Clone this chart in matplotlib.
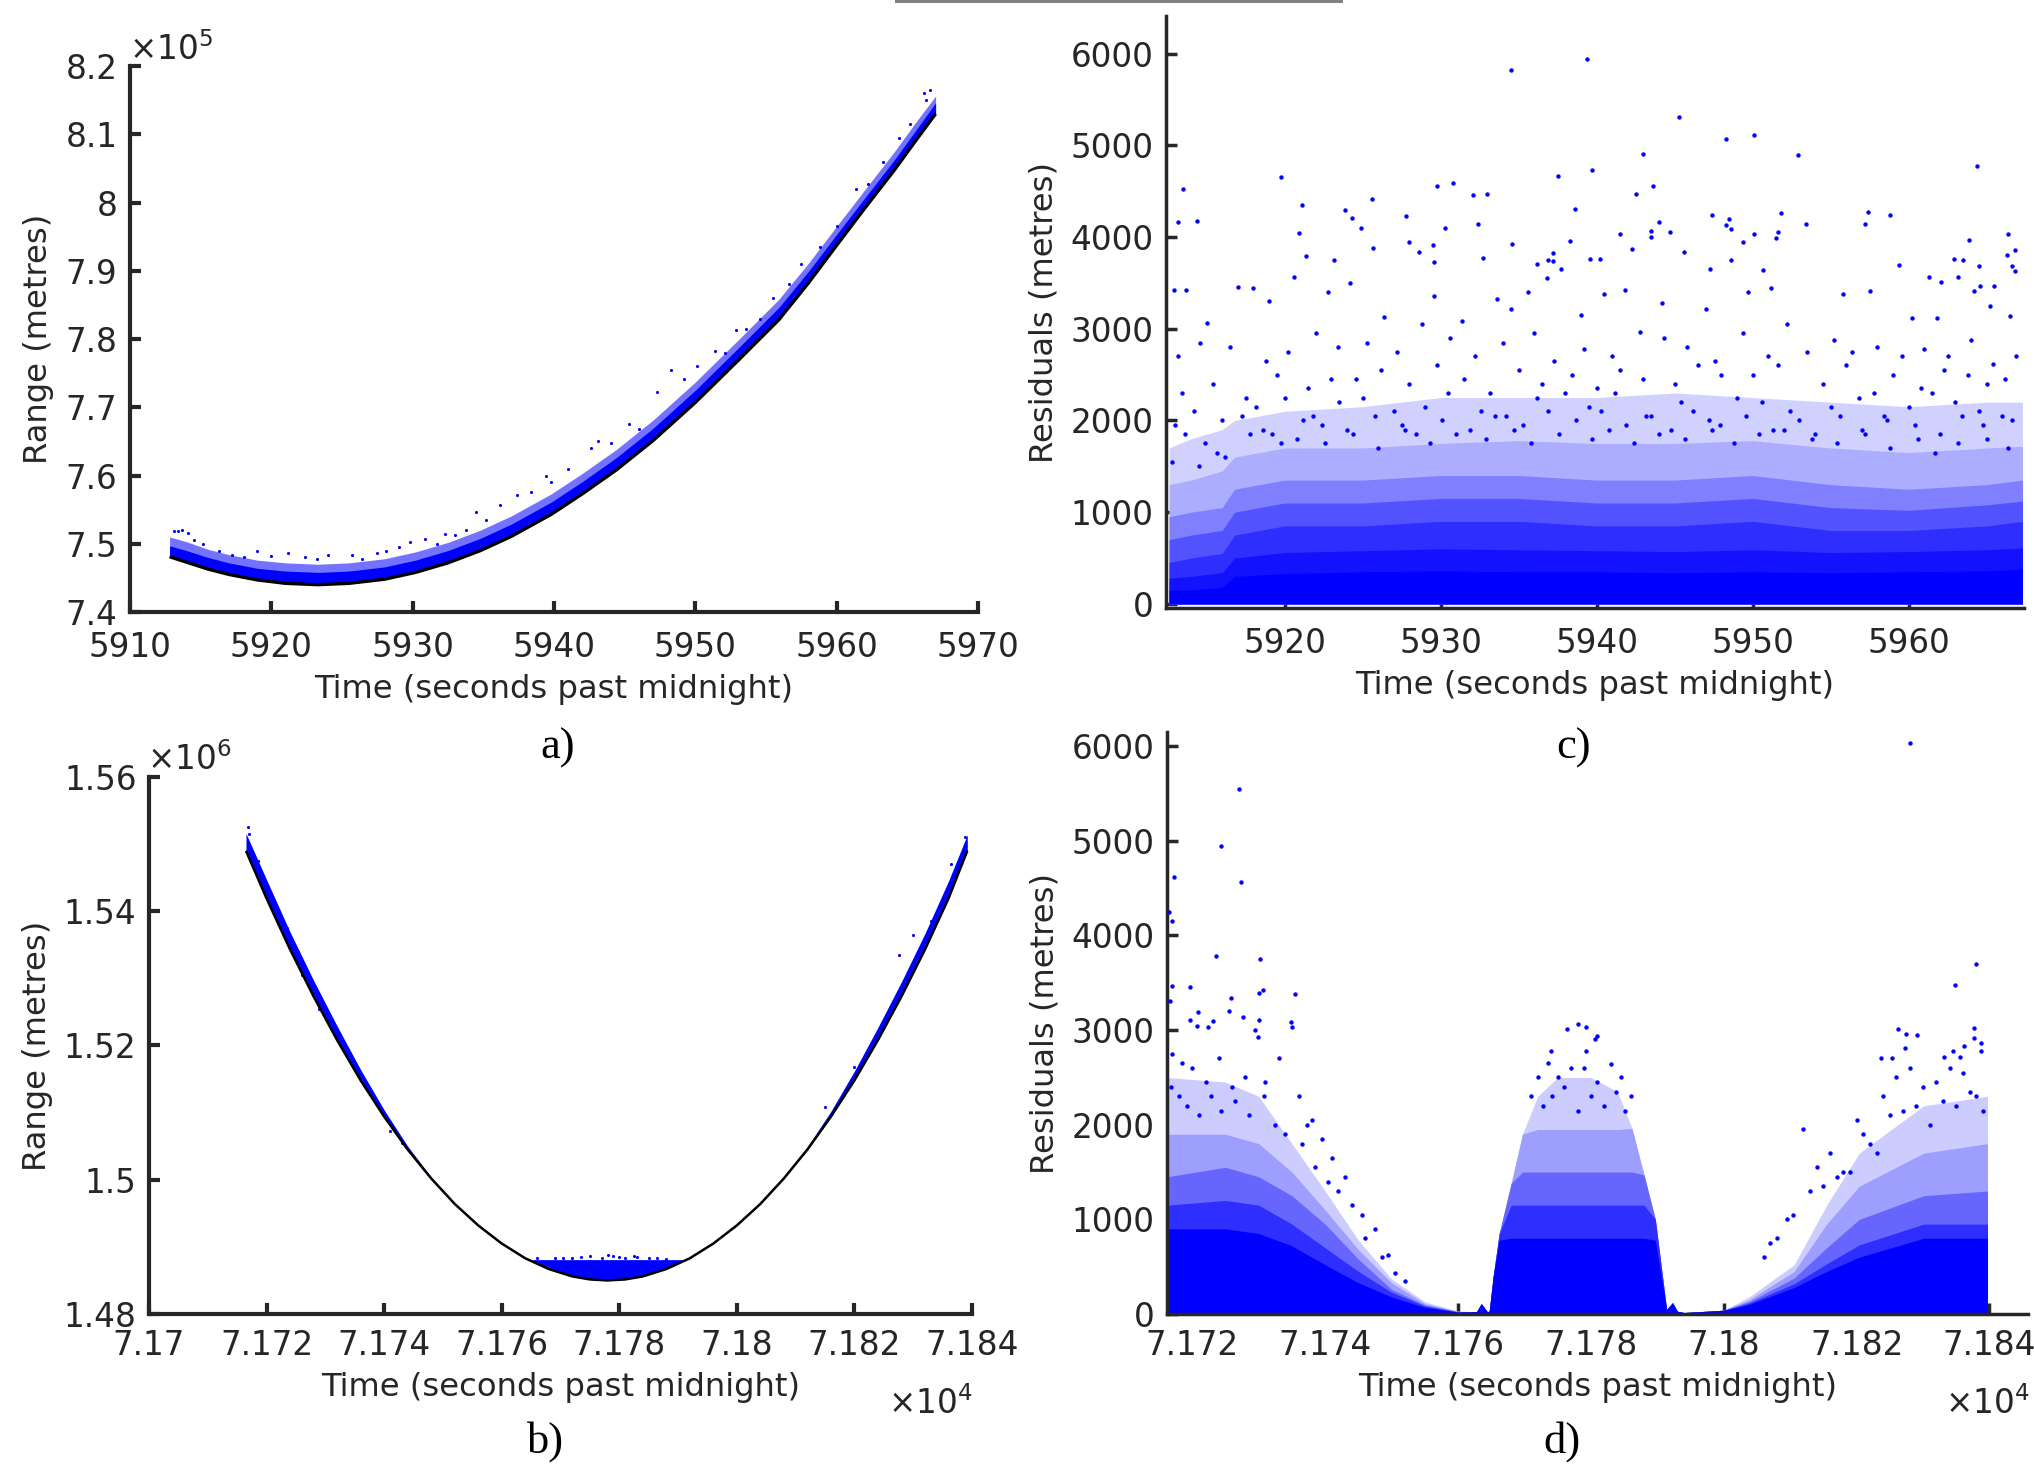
import numpy as np
import matplotlib
matplotlib.use('Agg')
from matplotlib import pyplot as plt
from matplotlib.patches import Rectangle

W, H = 2034, 1465
DARK = '#262626'
BLUE = '#0000ff'

# a) range (range in units of 1e5 m)
a_t = [5912.8, 5914, 5915.5, 5917, 5919, 5921, 5923.3, 5925.5, 5928, 5930.2, 5932.5, 5934.8, 5937, 5939.8, 5942, 5944.4, 5947, 5950, 5953, 5955.9, 5958, 5960.1, 5962, 5964.1, 5965.5, 5967]
a_curve = [7.481, 7.473, 7.463, 7.455, 7.447, 7.442, 7.440, 7.442, 7.448, 7.458, 7.472, 7.490, 7.511, 7.543, 7.573, 7.608, 7.651, 7.707, 7.768, 7.828, 7.882, 7.940, 7.992, 8.048, 8.088, 8.130]
a_solid = [7.497, 7.490, 7.480, 7.472, 7.464, 7.460, 7.458, 7.460, 7.466, 7.476, 7.490, 7.508, 7.529, 7.561, 7.591, 7.626, 7.669, 7.725, 7.786, 7.846, 7.899, 7.956, 8.007, 8.063, 8.103, 8.146]
a_sparse = [7.510, 7.503, 7.492, 7.484, 7.476, 7.472, 7.470, 7.472, 7.478, 7.488, 7.502, 7.520, 7.541, 7.573, 7.603, 7.638, 7.681, 7.737, 7.798, 7.858, 7.911, 7.968, 8.019, 8.075, 8.115, 8.156]
a_pt_t = [5913.1, 5913.4, 5913.7, 5914.1, 5914.5, 5915.2, 5916.3, 5917.2, 5918.1, 5919.0, 5920, 5921.2, 5922.4, 5923.2, 5924, 5925.7, 5926.4, 5927.5, 5928.1, 5929, 5929.8, 5930.9, 5931.7, 5932.3, 5933, 5933.8, 5934.5, 5935.2, 5936.2, 5937.4, 5938.4, 5939.4, 5939.8, 5941, 5942.6, 5943.1, 5944, 5945.3, 5946, 5947.3, 5948.3, 5949.2, 5950.1, 5951.4, 5952.1, 5952.9, 5953.6, 5954.6, 5955.5, 5956.6, 5957.5, 5958.8, 5960, 5961.4, 5962.2, 5963.3, 5964.4, 5965.2, 5966.2, 5966.6, 5966.3]
a_pt_r = [7.518, 7.518, 7.520, 7.516, 7.505, 7.500, 7.490, 7.483, 7.480, 7.490, 7.482, 7.487, 7.481, 7.478, 7.484, 7.484, 7.478, 7.487, 7.490, 7.495, 7.503, 7.507, 7.500, 7.514, 7.513, 7.520, 7.547, 7.535, 7.557, 7.572, 7.576, 7.599, 7.590, 7.610, 7.640, 7.650, 7.648, 7.675, 7.668, 7.722, 7.755, 7.742, 7.760, 7.782, 7.780, 7.813, 7.815, 7.830, 7.860, 7.880, 7.910, 7.935, 7.965, 8.020, 8.027, 8.060, 8.095, 8.115, 8.160, 8.165, 8.150]

# b) range (range in units of 1e6 m)
b_t = [71716.5, 71720, 71724, 71728, 71732, 71736, 71740, 71744, 71748, 71752, 71756, 71760, 71764, 71765, 71768, 71772, 71775, 71778, 71781, 71784, 71788, 71791, 71792, 71796, 71800, 71804, 71808, 71812, 71816, 71820, 71824, 71828, 71832, 71836, 71839.2]
b_curve = [1.5490, 1.5419, 1.5343, 1.5273, 1.5208, 1.5148, 1.5094, 1.5045, 1.5002, 1.4964, 1.4932, 1.4905, 1.4883, 1.4879, 1.4867, 1.4856, 1.48515, 1.4850, 1.48515, 1.4856, 1.4867, 1.4879, 1.4883, 1.4905, 1.4932, 1.4964, 1.5002, 1.5045, 1.5094, 1.5148, 1.5208, 1.5273, 1.5343, 1.5419, 1.5490]
b_top = [1.5516, 1.5447, 1.5369, 1.5297, 1.5229, 1.5164, 1.5104, 1.5050, 1.5004, 1.4965, 1.4932, 1.4905, 1.4883, 1.4881, 1.4881, 1.4881, 1.4881, 1.4881, 1.4881, 1.4881, 1.4881, 1.4881, 1.4883, 1.4905, 1.4932, 1.4965, 1.5004, 1.5049, 1.5102, 1.5162, 1.5227, 1.5295, 1.5367, 1.5445, 1.5514]
b_pt_t = [71716.8, 71717, 71718.5, 71722, 71723.5, 71726, 71727, 71729, 71731, 71733, 71735, 71738, 71741, 71743, 71766, 71769, 71770.5, 71772, 71773.5, 71775, 71777, 71778, 71779, 71780, 71781, 71782.5, 71783, 71785, 71786.5, 71788, 71815, 71820, 71825, 71827.5, 71830, 71833, 71836.5, 71838.8]
b_pt_r = [1.5525, 1.5515, 1.5475, 1.5395, 1.5375, 1.5305, 1.5305, 1.5255, 1.5235, 1.5205, 1.5165, 1.5125, 1.5073, 1.5055, 1.4883, 1.4883, 1.4884, 1.4884, 1.4885, 1.4886, 1.4884, 1.4888, 1.4886, 1.4885, 1.4884, 1.4886, 1.4885, 1.4883, 1.4884, 1.4882, 1.5108, 1.5168, 1.5235, 1.5335, 1.5365, 1.5385, 1.5470, 1.5510]

# c) residuals, density levels
c_t = [5912.6, 5914, 5916, 5916.8, 5920, 5925, 5930, 5935, 5940, 5945, 5950, 5955, 5960, 5965, 5967.3]
c_l1 = [150, 150, 180, 300, 330, 350, 360, 350, 350, 340, 350, 340, 350, 360, 380]
c_l2 = [280, 300, 340, 500, 560, 580, 600, 590, 580, 570, 590, 560, 570, 590, 610]
c_l3 = [450, 500, 550, 750, 850, 850, 900, 900, 850, 850, 900, 800, 800, 850, 900]
c_l4 = [700, 750, 800, 1000, 1100, 1100, 1150, 1150, 1100, 1100, 1150, 1050, 1020, 1080, 1120]
c_l5 = [950, 1000, 1050, 1250, 1350, 1350, 1400, 1400, 1350, 1350, 1400, 1300, 1250, 1300, 1350]
c_l6 = [1300, 1350, 1450, 1600, 1700, 1700, 1750, 1780, 1750, 1750, 1780, 1700, 1650, 1700, 1720]
c_l7 = [1700, 1800, 1900, 2000, 2100, 2150, 2250, 2250, 2250, 2300, 2250, 2200, 2150, 2200, 2200]
c_pt_t = [5934.5, 5939.4, 5945.3, 5948.3, 5950.1, 5952.9, 5943, 5964.4, 5939.7, 5937.5, 5919.8, 5913.5, 5929.8, 5930.8, 5932.1, 5933, 5943.6, 5942.5, 5925.6, 5921.1, 5923.9, 5924.3, 5913.2, 5914.4, 5927.8, 5938.6, 5932.4, 5930.3, 5924.9, 5947.4, 5948.5, 5948.3, 5948.6, 5951.8, 5957.4, 5957.2, 5958.8, 5953.4, 5966.4, 5966.8, 5966.3, 5966.6, 5966.8, 5963.9, 5950.1, 5951.6, 5951.5, 5944, 5943.5, 5943.5, 5944.7, 5941.5, 5938.3, 5934.6, 5928, 5929.5, 5928.6, 5925.7, 5920.9, 5921.4, 5923.2, 5929.6, 5932.7, 5937.2, 5936.9, 5937.2, 5937.7, 5936.2, 5939.6, 5940.2, 5942.3, 5945.6, 5948.6, 5947.3, 5949.4, 5950.7, 5959.4, 5962.9, 5963.5, 5964.5, 5963.2, 5961.3, 5962.1, 5964.2, 5964.6, 5965.5,
          5912.9, 5913.7, 5915, 5917, 5918, 5919, 5920.6, 5922.8, 5924.2, 5926.4, 5929.6, 5931.4, 5933.6, 5934.5, 5935.6, 5936.8, 5939, 5940.5, 5941.8, 5944.2, 5947, 5949.7, 5951.2, 5952.2, 5955.8, 5957.5, 5960.2, 5961.8, 5965.2, 5966.5,
          5913.2, 5914.6, 5916.5, 5918.8, 5920.2, 5922, 5923.4, 5925.3, 5927.2, 5928.8, 5930.6, 5932.2, 5934, 5936, 5937.3, 5939.2, 5941, 5942.8, 5944.3, 5945.8, 5947.6, 5949.4, 5951, 5953.5, 5955.2, 5956.4, 5958, 5959.6, 5961, 5962.5, 5964, 5965.4, 5966.9,
          5913.4, 5915.4, 5917.5, 5919.5, 5921.5, 5923, 5924.6, 5926.2, 5928, 5929.8, 5931.5, 5933.2, 5935, 5936.5, 5938.4, 5940, 5941.5, 5943, 5945, 5946.5, 5948, 5950, 5951.6, 5954.5, 5956, 5957.8, 5959, 5960.8, 5962.3, 5963.8, 5965, 5966.2,
          5913, 5914.2, 5916, 5918.2, 5920, 5921.8, 5923.5, 5925, 5927, 5929, 5930.5, 5932.6, 5934.2, 5936.2, 5938, 5939.5, 5941.2, 5943.5, 5945.4, 5947.2, 5949, 5950.6, 5952.4, 5955, 5956.8, 5958.4, 5960, 5961.5, 5963, 5964.5, 5966,
          5913.6, 5914.9, 5915.7, 5917.3, 5918.6, 5919.2, 5921.2, 5922.4, 5924, 5925.8, 5927.5, 5928.4, 5930.1, 5931.9, 5933.5, 5935.3, 5936.9, 5938.7, 5940.3, 5941.9, 5943.2, 5944.8, 5946.2, 5947.9, 5949.6, 5951.3, 5953, 5954, 5955.6, 5957, 5958.6, 5960.4, 5962, 5963.4, 5964.8, 5966.6,
          5912.8, 5914.5, 5916.2, 5917.8, 5919.8, 5920.8, 5922.6, 5924.4, 5926, 5927.7, 5929.3, 5931, 5932.9, 5934.7, 5935.8, 5937.6, 5939.7, 5940.8, 5942.4, 5944, 5945.7, 5947.4, 5948.8, 5950.4, 5952, 5953.8, 5955.4, 5957.2, 5958.8, 5960.6, 5961.7, 5963.2, 5965, 5966.4]
c_pt_r = [5820, 5945, 5310, 5075, 5115, 4895, 4910, 4770, 4730, 4665, 4650, 4520, 4560, 4585, 4455, 4470, 4555, 4465, 4410, 4350, 4300, 4205, 4160, 4180, 4225, 4310, 4145, 4100, 4095, 4240, 4200, 4130, 4090, 4265, 4275, 4140, 4245, 4140, 4030, 3855, 3810, 3680, 3630, 3970, 4030, 4055, 3990, 4165, 4065, 4000, 4055, 4035, 3960, 3925, 3945, 3910, 3835, 3885, 4040, 3795, 3750, 3730, 3775, 3830, 3750, 3740, 3650, 3705, 3765, 3765, 3870, 3840, 3755, 3655, 3945, 3645, 3695, 3765, 3750, 3690, 3560, 3565, 3515, 3410, 3465, 3470,
          3420, 3420, 3060, 3460, 3450, 3300, 3570, 3400, 3500, 3130, 3360, 3090, 3320, 3220, 3400, 3550, 3150, 3380, 3420, 3280, 3220, 3400, 3440, 3050, 3380, 3410, 3120, 3120, 3250, 3140,
          2700, 2850, 2800, 2650, 2750, 2950, 2800, 2850, 2750, 3050, 2900, 2700, 2850, 2950, 2650, 2780, 2700, 2960, 2900, 2800, 2650, 2950, 2700, 2750, 2880, 2750, 2800, 2700, 2780, 2700, 2880, 2620, 2700,
          2300, 2400, 2250, 2500, 2350, 2450, 2450, 2550, 2400, 2600, 2450, 2300, 2550, 2400, 2500, 2350, 2550, 2450, 2400, 2600, 2500, 2500, 2600, 2400, 2600, 2300, 2500, 2350, 2550, 2500, 2400, 2450,
          1950, 2100, 2000, 2150, 2250, 2050, 2200, 2250, 2100, 2150, 2300, 2100, 2050, 2250, 2300, 2150, 2300, 2050, 2200, 2000, 2250, 2200, 2100, 2150, 2250, 2050, 2150, 2300, 2200, 2100, 2050,
          1850, 1750, 1650, 2050, 1900, 1850, 2000, 1950, 1900, 2050, 1950, 1850, 2000, 1900, 2050, 1950, 2100, 2000, 2100, 1950, 2050, 1900, 2100, 1950, 2050, 1900, 2000, 1850, 2050, 1900, 2000, 1950, 1850, 2050, 1950, 2000,
          1550, 1500, 1600, 1850, 1750, 1800, 1750, 1850, 1700, 1900, 1750, 1850, 1800, 1900, 1750, 1850, 1800, 1900, 1750, 1850, 1800, 1900, 1750, 1850, 1900, 1800, 1750, 1850, 1700, 1800, 1650, 1750, 1800, 1700]

# d) residuals, density levels
d_t = [71716.2, 71725, 71730, 71735, 71740, 71745, 71750, 71755, 71760, 71762.8, 71763.5, 71764.4, 71764.7, 71765.3, 71766.2, 71768, 71769.7, 71772, 71775, 71780, 71784, 71786.2, 71788, 71789.7, 71791.4, 71792.3, 71793, 71794, 71800, 71803.8, 71810.6, 71815.5, 71820.4, 71830.1, 71839.7]
d_l1 = [900, 900, 850, 720, 520, 330, 180, 70, 20, 25, 110, 25, 30, 400, 780, 800, 800, 800, 800, 800, 800, 800, 800, 780, 50, 120, 30, 15, 40, 100, 280, 450, 600, 800, 800]
d_l2 = [1150, 1200, 1150, 950, 700, 450, 230, 85, 22, 25, 110, 25, 30, 400, 850, 1150, 1150, 1150, 1150, 1150, 1150, 1150, 1150, 1000, 50, 120, 30, 15, 40, 115, 320, 530, 730, 950, 950]
d_l3 = [1450, 1550, 1450, 1250, 950, 580, 260, 95, 25, 25, 110, 25, 30, 400, 850, 1380, 1500, 1500, 1500, 1500, 1500, 1500, 1470, 1000, 50, 120, 30, 15, 40, 130, 380, 700, 1000, 1250, 1300]
d_l4 = [1900, 1900, 1800, 1500, 1100, 680, 330, 110, 28, 25, 110, 25, 30, 400, 850, 1380, 1900, 1950, 1950, 1950, 1950, 1960, 1470, 1000, 50, 120, 30, 15, 40, 150, 450, 950, 1350, 1700, 1800]
d_l5 = [2500, 2450, 2300, 1800, 1300, 780, 370, 130, 30, 25, 110, 25, 30, 400, 850, 1380, 1900, 2300, 2500, 2500, 2350, 1960, 1470, 1000, 50, 120, 30, 15, 40, 180, 520, 1150, 1700, 2200, 2300]
d_pt_t = [71828, 71727, 71724.3, 71717.3, 71727.3, 71716.5, 71716.9, 71723.6, 71730.2, 71837.9, 71834.8, 71717, 71719.6, 71730.6, 71730, 71735.5, 71725.8, 71716.6, 71725.5, 71720.8, 71719.7, 71727.6, 71730.1, 71734.8, 71735, 71723.1, 71722.4, 71720.7, 71729.4, 71729.9, 71778, 71779.3, 71776.4, 71780.9, 71780.6, 71826.3, 71827.4, 71829.1, 71837.6, 71837.6, 71827.3, 71838.7, 71836.1, 71834.5, 71833.2, 71835.6, 71823.7, 71825.3, 71838.7, 71774, 71779.3,
          71717, 71718.5, 71720, 71722, 71724, 71726, 71728, 71731, 71733, 71736, 71737.2, 71738, 71739.5, 71741, 71743, 71745.5, 71747.5, 71749.5, 71752, 71772, 71773.5, 71775, 71777, 71779, 71781, 71783, 71784.5, 71786, 71807, 71809.5, 71812, 71814, 71816, 71818, 71820, 71822, 71824, 71826, 71828, 71830, 71832, 71834, 71836, 71838,
          71716.8, 71718, 71719.2, 71721, 71722.8, 71724.4, 71726.5, 71728.5, 71730.8, 71732.5, 71734, 71736.5, 71738.5, 71740.5, 71742, 71744, 71746, 71748.5, 71750.5, 71771, 71772.8, 71774.2, 71776, 71778, 71780, 71782, 71783.8, 71785.2, 71806, 71808, 71810.5, 71813, 71815, 71817, 71819, 71821, 71823, 71825, 71827, 71829, 71831, 71833, 71835, 71837, 71839]
d_pt_r = [6035, 5550, 4950, 4615, 4570, 4250, 4150, 3785, 3755, 3700, 3475, 3470, 3460, 3425, 3390, 3385, 3340, 3310, 3200, 3195, 3110, 3140, 3110, 3085, 3030, 3100, 3030, 3045, 3000, 2925, 3060, 3035, 3010, 2935, 2910, 3010, 2960, 2950, 3020, 2920, 2810, 2860, 2830, 2775, 2715, 2720, 2700, 2710, 2775, 2775, 2775,
          2750, 2650, 2600, 2450, 2700, 2400, 2500, 2450, 2700, 2300, 2000, 2050, 1850, 1650, 1450, 1050, 900, 620, 350, 2500, 2650, 2500, 2600, 2600, 2450, 2640, 2500, 2300, 750, 1000, 1950, 1550, 1700, 1500, 2050, 1800, 2300, 2500, 2600, 2400, 2450, 2600, 2550, 2300,
          2400, 2300, 2200, 2100, 2300, 2150, 2250, 2100, 2300, 2000, 1900, 1800, 1550, 1400, 1300, 1150, 800, 600, 430, 2300, 2200, 2300, 2400, 2150, 2300, 2200, 2350, 2150, 600, 800, 1050, 1300, 1350, 1450, 1500, 1900, 1700, 2100, 2150, 2200, 2000, 2250, 2200, 2350, 2150]

TICK_FS = 23.5
LABEL_FS = 23.2


def make_axes(left, right, top, bottom, lw, xpad):
    ax = fig.add_axes([left / W, 1 - bottom / H, (right - left) / W, (bottom - top) / H])
    ax.spines['top'].set_visible(False)
    ax.spines['right'].set_visible(False)
    ax.spines['left'].set_linewidth(lw)
    ax.spines['bottom'].set_linewidth(lw)
    ax.spines['left'].set_color(DARK)
    ax.spines['bottom'].set_color(DARK)
    ax.tick_params(direction='in', length=8, width=lw, colors=DARK, labelsize=TICK_FS)
    ax.tick_params(axis='x', pad=xpad)
    ax.tick_params(axis='y', pad=9)
    return ax


def draw_cloud(ax, t, tiers, pt_t, pt_r):
    # density levels go from the outer, pale one to the solid one
    for vals, f in tiers:
        ax.fill_between(t, 0, vals, color=(1 - f, 1 - f, 1), lw=0, zorder=2)
    ax.scatter(pt_t, pt_r, s=10, color=BLUE, lw=0, zorder=3)


def labels(ax, ylab):
    ax.set_xlabel('Time (seconds past midnight)', fontsize=LABEL_FS, color=DARK, labelpad=7)
    ax.set_ylabel(ylab, fontsize=LABEL_FS, color=DARK, labelpad=8)


fig = plt.figure(figsize=(W / 100, H / 100), dpi=100)
fig.add_artist(Rectangle((895 / W, 1 - 3 / H), 448 / W, 3 / H, transform=fig.transFigure, color='#808080', lw=0))

# a)
ax = make_axes(130, 978, 66, 612, 3, 14)
ax.fill_between(a_t, a_curve, a_sparse, color=(0.45, 0.45, 1), lw=0, zorder=2)
ax.fill_between(a_t, a_curve, a_solid, color=BLUE, lw=0, zorder=2)
ax.scatter(a_pt_t, a_pt_r, s=5, color=BLUE, lw=0, zorder=3)
ax.plot(a_t, a_curve, color='black', lw=2.4, solid_capstyle='butt', zorder=4)
ax.set_xlim(5910, 5970)
ax.set_ylim(7.4, 8.2)
ax.set_xticks([5910, 5920, 5930, 5940, 5950, 5960, 5970])
ax.set_yticks([7.4, 7.5, 7.6, 7.7, 7.8, 7.9, 8, 8.1, 8.2])
ax.set_yticklabels(['7.4', '7.5', '7.6', '7.7', '7.8', '7.9', '8', '8.1', '8.2'])
labels(ax, 'Range (metres)')
fig.text(129 / W, 1 - 60 / H, r'$\times$10$^{5}$', fontsize=TICK_FS, color=DARK)

# b)
ax = make_axes(149, 972, 777, 1314, 3, 11)
ax.fill_between(b_t, b_curve, b_top, color=BLUE, lw=0, zorder=2)
ax.scatter(b_pt_t, b_pt_r, s=5, color=BLUE, lw=0, zorder=3)
ax.plot(b_t, b_curve, color='black', lw=1.8, solid_capstyle='butt', zorder=4)
ax.set_xlim(71700, 71840)
ax.set_ylim(1.48, 1.56)
ax.set_xticks([71700, 71720, 71740, 71760, 71780, 71800, 71820, 71840])
ax.set_xticklabels(['7.17', '7.172', '7.174', '7.176', '7.178', '7.18', '7.182', '7.184'])
ax.set_yticks([1.48, 1.5, 1.52, 1.54, 1.56])
ax.set_yticklabels(['1.48', '1.5', '1.52', '1.54', '1.56'])
labels(ax, 'Range (metres)')
fig.text(147 / W, 1 - 770 / H, r'$\times$10$^{6}$', fontsize=TICK_FS, color=DARK)
fig.text(888 / W, 1 - 1414 / H, r'$\times$10$^{4}$', fontsize=TICK_FS, color=DARK)

# c)
ax = make_axes(1166, 2024, 16, 608, 2.5, 14)
draw_cloud(ax, c_t, [(c_l7, 0.18), (c_l6, 0.32), (c_l5, 0.5), (c_l4, 0.68), (c_l3, 0.82), (c_l2, 0.93), (c_l1, 1)], c_pt_t, c_pt_r)
ax.set_xlim(5912.4, 5967.4)
ax.set_ylim(-45, 6411)
ax.set_xticks([5920, 5930, 5940, 5950, 5960])
ax.set_yticks([0, 1000, 2000, 3000, 4000, 5000, 6000])
labels(ax, 'Residuals (metres)')

# d)
ax = make_axes(1167, 2028, 732, 1314, 2.5, 11)
draw_cloud(ax, d_t, [(d_l5, 0.2), (d_l4, 0.38), (d_l3, 0.6), (d_l2, 0.82), (d_l1, 1)], d_pt_t, d_pt_r)
ax.set_xlim(71716.2, 71845.8)
ax.set_ylim(0, 6150)
ax.set_xticks([71720, 71740, 71760, 71780, 71800, 71820, 71840])
ax.set_xticklabels(['7.172', '7.174', '7.176', '7.178', '7.18', '7.182', '7.184'])
ax.set_yticks([0, 1000, 2000, 3000, 4000, 5000, 6000])
labels(ax, 'Residuals (metres)')
fig.text(1945 / W, 1 - 1414 / H, r'$\times$10$^{4}$', fontsize=TICK_FS, color=DARK)

# panel captions
for lab, x, y in [('a)', 558, 748), ('b)', 546, 1442), ('c)', 1574, 748), ('d)', 1562, 1442)]:
    fig.text(x / W, 1 - y / H, lab, fontsize=32, family='Liberation Serif', color='black', ha='center', va='center')

fig.savefig('out.png', dpi=100)
